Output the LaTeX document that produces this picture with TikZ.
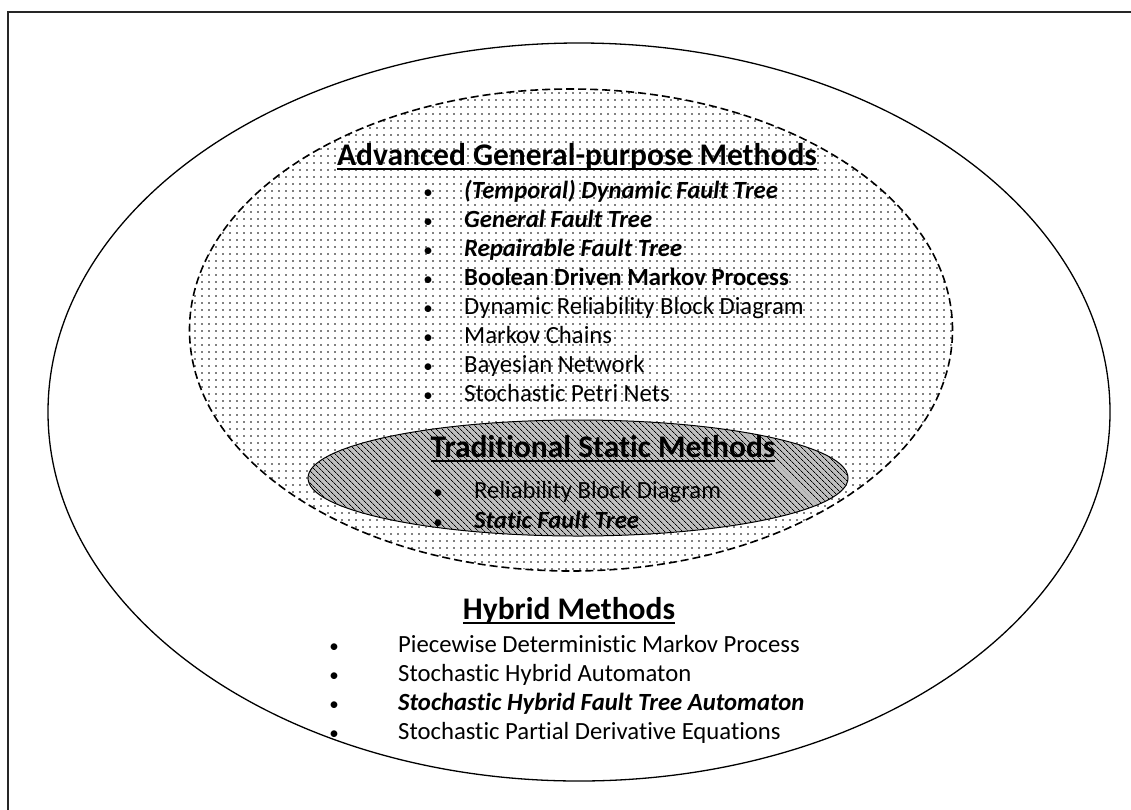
\documentclass[tikz,border=0pt]{standalone}
\usepackage{fontspec}
\setmainfont{Carlito}[Ligatures=NoCommon]
\usetikzlibrary{shapes.geometric,patterns.meta,positioning}

\newcommand{\thickul}[1]{\setbox0\hbox{#1}\rlap{\rule[-4.5pt]{\wd0}{1.7pt}}\box0}

\tikzdeclarepattern{
  name=sparsedots,
  type=uncolored,
  bounding box={(-3.25pt,-3.25pt) and (3.25pt,3.25pt)},
  tile size={(6.5pt,6.5pt)},
  code={\pgfpathcircle{\pgfpointorigin}{0.9pt}\pgfusepath{fill}}
}

\tikzset{
  region/.style={ellipse, draw=black, inner sep=0pt},
  heading/.style={anchor=base, inner sep=0pt, font=\bfseries\fontsize{31.5}{37}\selectfont},
  entry/.style={anchor=base west, inner sep=0pt, font=\fontsize{24.7}{29}\selectfont},
  bulletmark/.style={anchor=base, inner sep=0pt, font=\fontsize{19}{22}\selectfont}
}

\begin{document}
\begin{tikzpicture}[x=1pt,y=-1pt]
  % --- page and frame ---
  \clip (0,0) rectangle (1131,809);
  \draw[line width=2pt, black!85] (8,12) rectangle (1145,830);

  % --- regions ---
  \node[region, line width=1.3pt, minimum width=1062pt, minimum height=738pt] (hybrid) at (579,412) {};
  \node[region, line width=1.6pt, dash pattern=on 8pt off 4pt, pattern=sparsedots,
        minimum width=763pt, minimum height=482pt] (advanced) at (571,330) {};
  \node[region, line width=1pt, fill=black!25, minimum width=540pt, minimum height=116pt] (static) at (578,478) {};

  % --- Advanced General-purpose Methods ---
  \node[heading] (advtitle) at (577,165) {\thickul{Advanced General-purpose Methods}};
  \foreach \y/\txt [count=\i] in {
      198/{\textbf{\textit{(Temporal) Dynamic Fault Tree}}},
      227/{\textbf{\textit{General Fault Tree}}},
      256/{\textbf{\textit{Repairable Fault Tree}}},
      285/{\textbf{Boolean Driven Markov Process}},
      314/{Dynamic Reliability Block Diagram},
      343/{Markov Chains},
      372/{Bayesian Network},
      401/{Stochastic Petri Nets}}{
    \node[bulletmark] (advdot\i) at (428,\y) {\textbullet};
    \node[entry] (adv\i) at (464,\y) {\txt};
  }

  % --- Traditional Static Methods ---
  \node[heading] (stattitle) at (603,457) {\thickul{Traditional Static Methods}};
  \foreach \y/\txt [count=\i] in {
      498/{Reliability Block Diagram},
      528/{\textbf{\textit{Static Fault Tree}}}}{
    \node[bulletmark] (statdot\i) at (438,\y) {\textbullet};
    \node[entry] (stat\i) at (474,\y) {\txt};
  }
  % hatching laid over the inner region
  \path[pattern={Lines[angle=-45,distance=4pt,line width=0.8pt]}]
    (static.center) ellipse [x radius=269.5pt, y radius=57.5pt];

  % --- Hybrid Methods ---
  \node[heading] (hybtitle) at (569,619) {\thickul{Hybrid Methods}};
  \foreach \y/\txt [count=\i] in {
      652/{Piecewise Deterministic Markov Process},
      681/{Stochastic Hybrid Automaton},
      710/{\textbf{\textit{Stochastic Hybrid Fault Tree Automaton}}},
      739/{Stochastic Partial Derivative Equations}}{
    \node[bulletmark] (hybdot\i) at (334,\y) {\textbullet};
    \node[entry] (hyb\i) at (398,\y) {\txt};
  }
\end{tikzpicture}
\end{document}
